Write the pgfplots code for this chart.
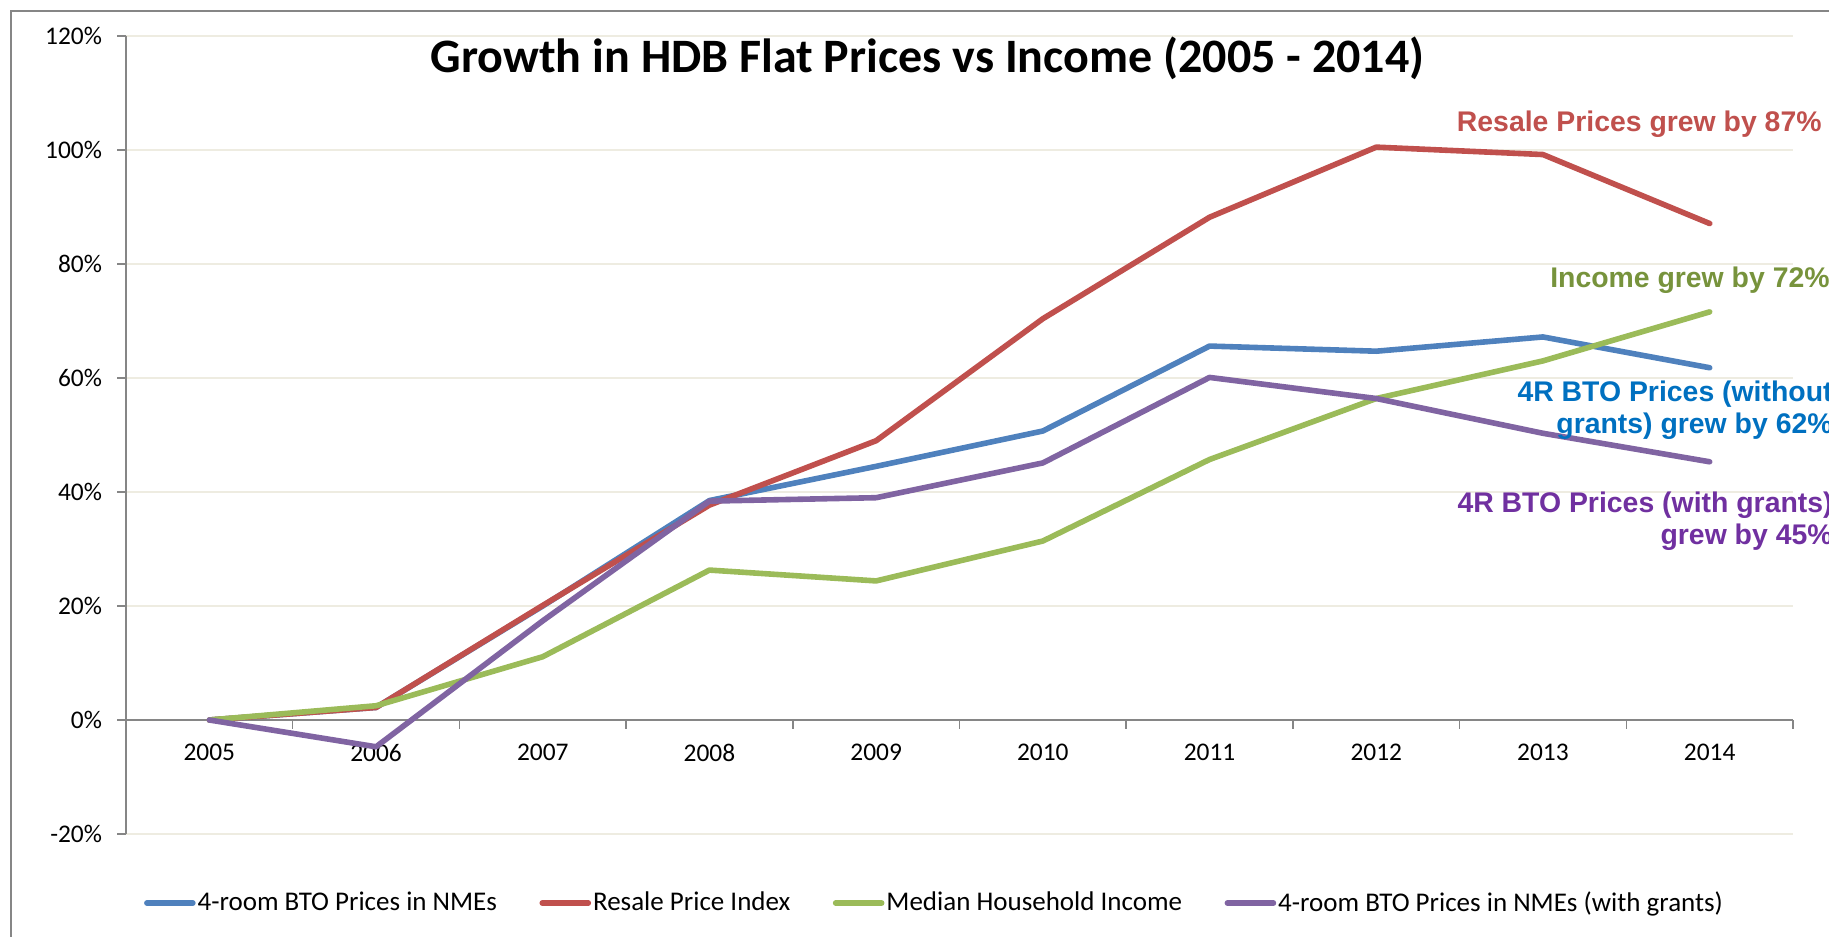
\documentclass[border=0pt]{standalone}
\usepackage{fontspec}
\setmainfont{Carlito}
\newfontfamily\annot{Liberation Sans}
\usepackage{pgfplots}
\pgfplotsset{compat=1.18}

\definecolor{cblue}{HTML}{4F81BD}
\definecolor{cred}{HTML}{C0504D}
\definecolor{cgreen}{HTML}{9BBB59}
\definecolor{cpurple}{HTML}{8064A2}
\definecolor{tred}{HTML}{C0504D}
\definecolor{tgreen}{HTML}{77933C}
\definecolor{tblue}{HTML}{0070C0}
\definecolor{tpurple}{HTML}{7030A0}
\definecolor{gridcol}{HTML}{EEECE1}
\definecolor{axgray}{HTML}{868686}

\begin{document}
\begin{tikzpicture}
\useasboundingbox (0,0) rectangle (914.5bp,468.5bp);
\clip (0,0) rectangle (914.5bp,468.5bp);
\draw[axgray, line width=1bp] (5.5bp,-10bp) rectangle (1000bp,463bp);

\begin{axis}[
    scale only axis,
    width=833.5bp, height=399bp,
    at={(63bp,51.5bp)}, anchor=south west,
    axis y line=left,
    axis x line=middle,
    axis line style={-, draw=axgray, line width=1bp},
    xmin=2004.5, xmax=2014.5,
    ymin=-20, ymax=120,
    xtick={2004.5,2005.5,...,2014.5},
    xticklabel={\relax},
    extra x ticks={2005,2006,...,2014},
    extra x tick labels={2005,2006,2007,2008,2009,2010,2011,2012,2013,2014},
    extra x tick style={major tick length=0pt, grid=none},
    ytick={-20,0,20,40,60,80,100,120},
    yticklabels={-20\%,0\%,20\%,40\%,60\%,80\%,100\%,120\%},
    hide obscured y ticks=false,
    ymajorgrids,
    grid style={gridcol, line width=0.75bp},
    tick align=outside,
    major tick length=4.5bp,
    tick style={axgray, line width=0.75bp},
    tick label style={font=\fontsize{12.7bp}{15bp}\selectfont},
    every x tick label/.append style={yshift=-8.5bp},
    every y tick label/.append style={xshift=-4bp},
    legend columns=4,
    legend cell align=left,
    legend style={draw=none, fill=none, at={(0.485,-0.0865)}, anchor=center,
        font=\fontsize{13.5bp}{16bp}\selectfont,
        nodes={inner xsep=1bp},
        /tikz/every even column/.append style={column sep=20.25bp}},
    legend image code/.code={\draw[#1] (0bp,0bp) -- (23bp,0bp);},
    every axis plot/.append style={line width=2.8bp, line join=round, line cap=round},
]
\addplot[cblue] coordinates {(2005,0) (2006,2.2) (2007,20) (2008,38.5) (2009,44.5) (2010,50.7) (2011,65.6) (2012,64.7) (2013,67.2) (2014,61.8)};
\addplot[cred] coordinates {(2005,0) (2006,2.2) (2007,20.1) (2008,37.7) (2009,49.0) (2010,70.4) (2011,88.2) (2012,100.5) (2013,99.2) (2014,87.1)};
\addplot[cgreen] coordinates {(2005,0) (2006,2.5) (2007,11.1) (2008,26.3) (2009,24.4) (2010,31.4) (2011,45.7) (2012,56.4) (2013,63.0) (2014,71.6)};
\addplot[cpurple] coordinates {(2005,0) (2006,-4.7) (2007,17.4) (2008,38.4) (2009,39.0) (2010,45.1) (2011,60.1) (2012,56.4) (2013,50.3) (2014,45.3)};
\legend{4-room BTO Prices in NMEs, Resale Price Index, Median Household Income, 4-room BTO Prices in NMEs (with grants)}
\end{axis}

\node[anchor=base, font=\bfseries\fontsize{24bp}{28bp}\selectfont] at (463.75bp,432bp) {Growth in HDB Flat Prices vs Income (2005 - 2014)};

\tikzset{annot/.style={anchor=base east, font=\annot\bfseries\fontsize{14.2bp}{17bp}\selectfont, inner sep=0pt}}
\node[annot, text=tred] at (911bp,402.5bp) {Resale Prices grew by 87\%};
\node[annot, text=tgreen] at (915bp,324.5bp) {Income grew by 72\%};
\node[annot, text=tblue] at (916.5bp,267.5bp) {4R BTO Prices (without};
\node[annot, text=tblue] at (916.5bp,251.5bp) {grants) grew by 62\%};
\node[annot, text=tpurple] at (916.5bp,212bp) {4R BTO Prices (with grants)};
\node[annot, text=tpurple] at (916.5bp,196bp) {grew by 45\%};
\end{tikzpicture}
\end{document}
